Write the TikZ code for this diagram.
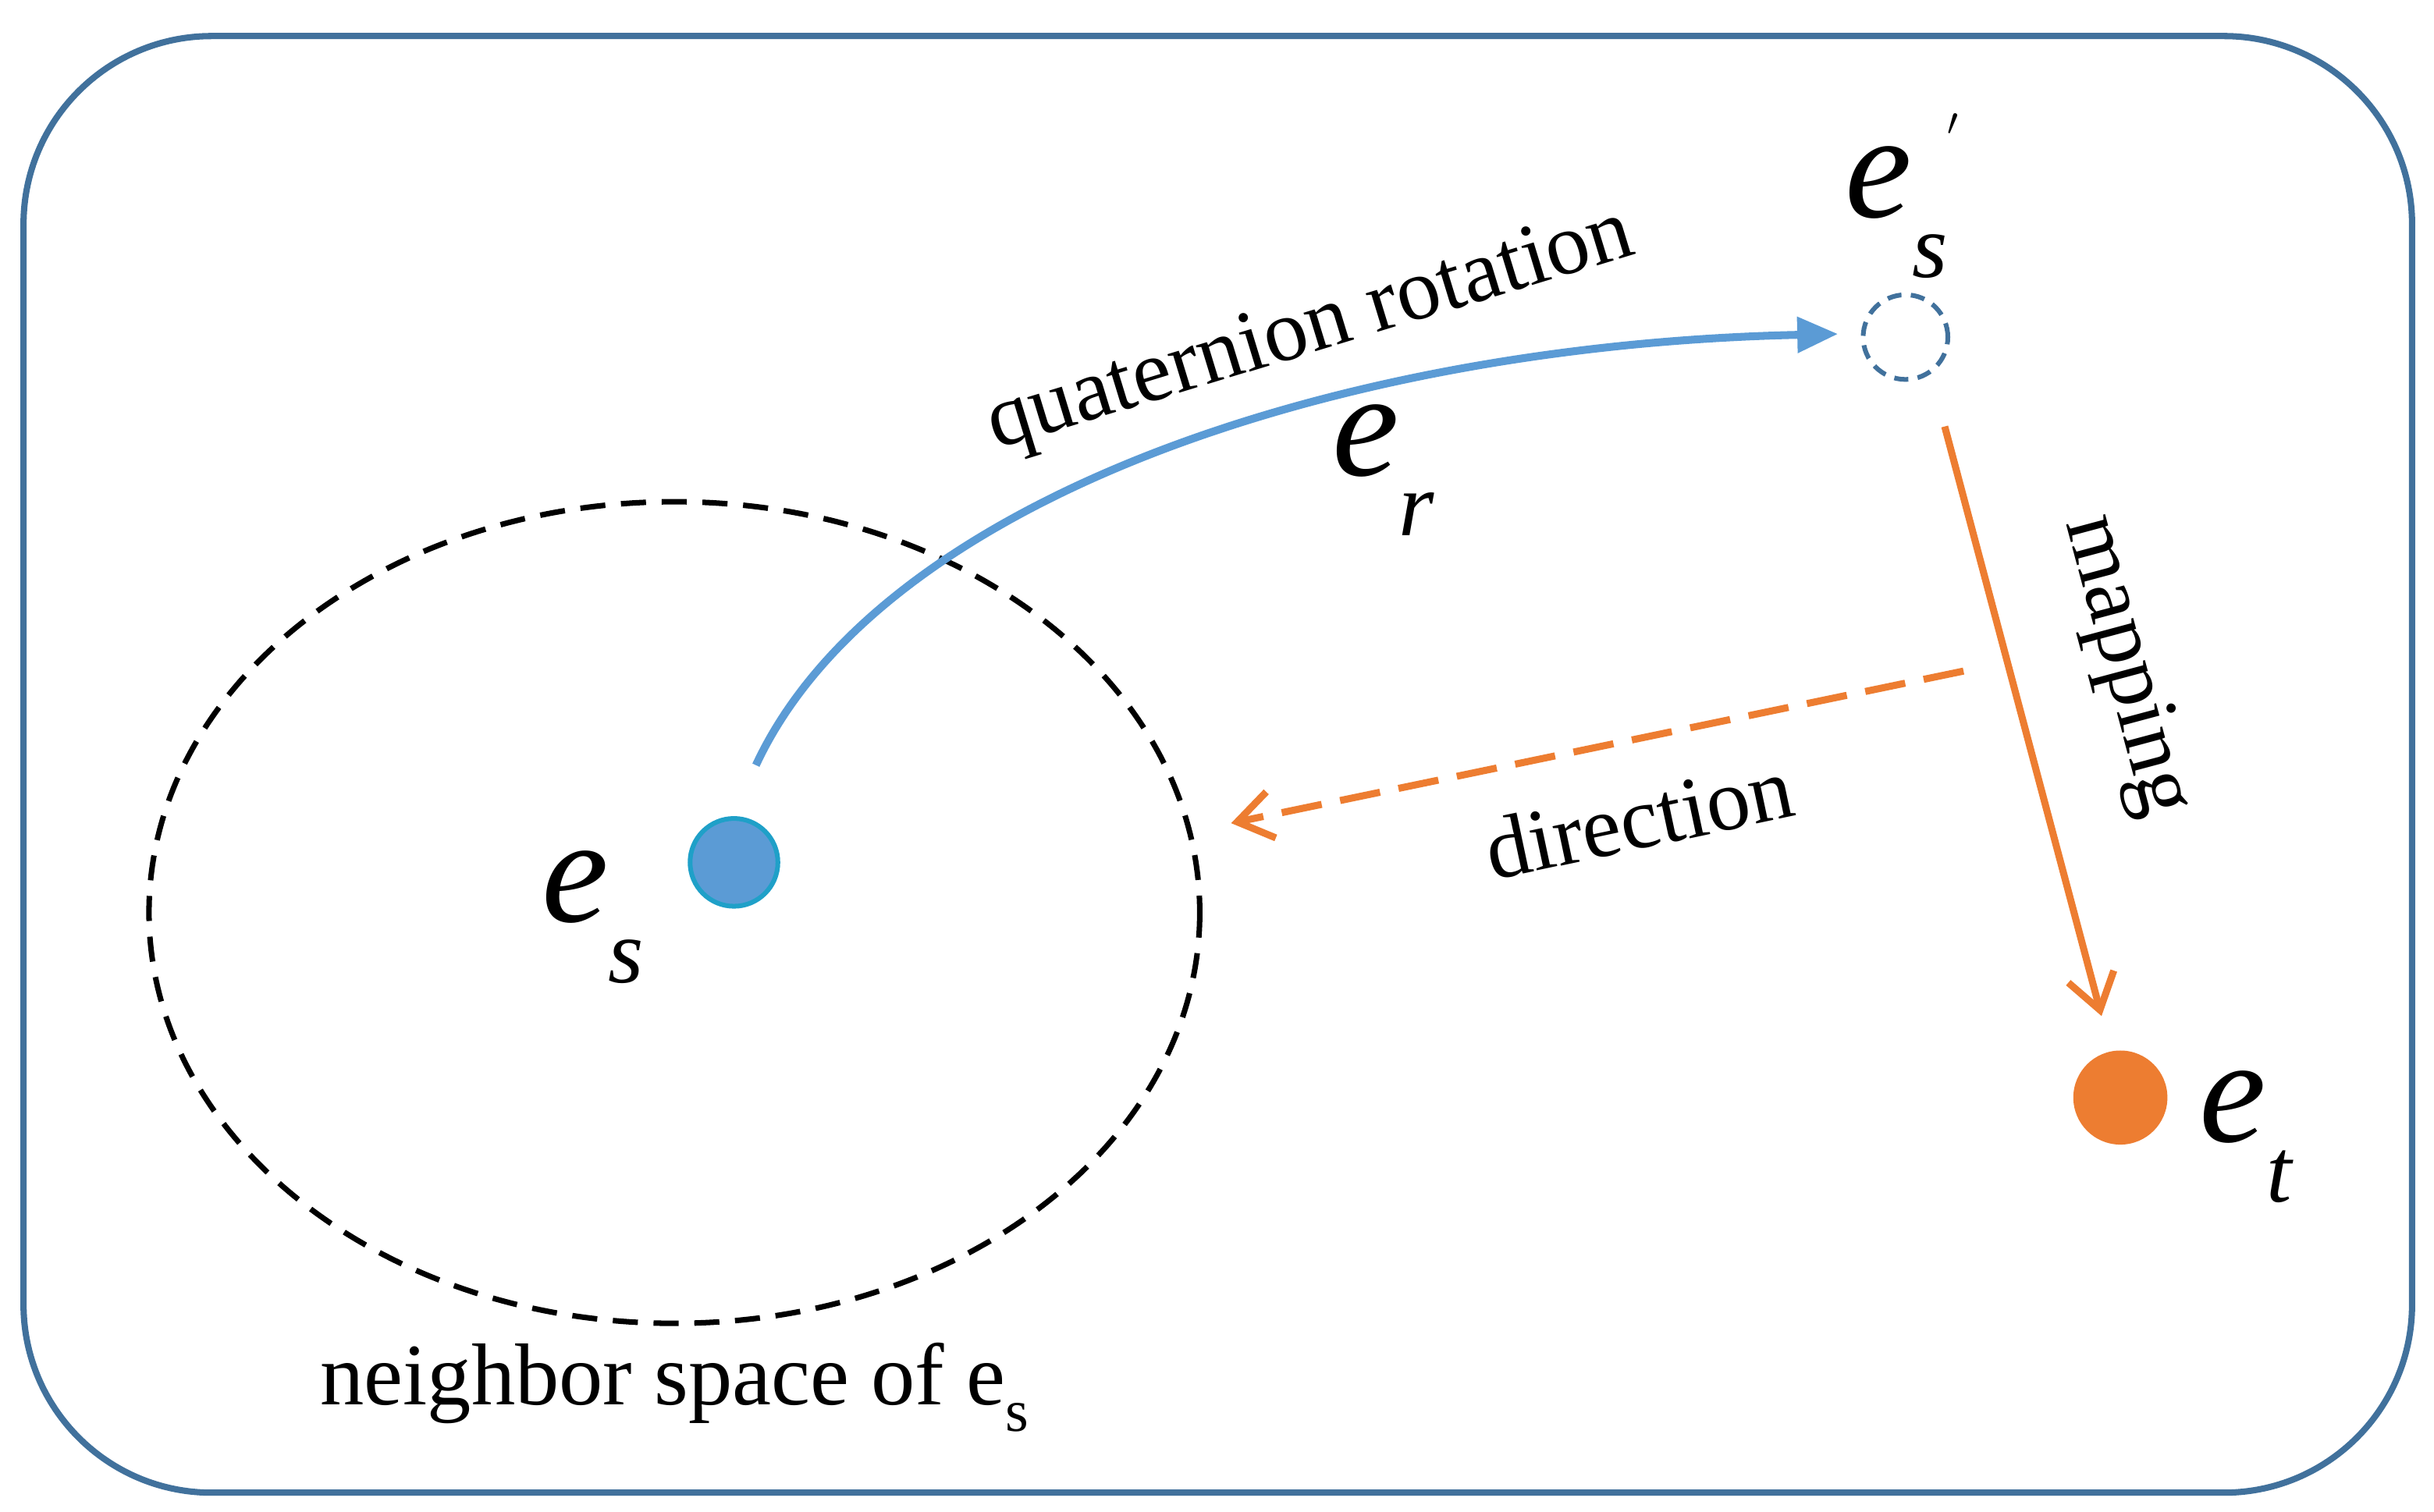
\documentclass[tikz,border=0pt]{standalone}
\usepackage{fontspec}
\setmainfont{Liberation Serif}
\usetikzlibrary{arrows.meta}
\definecolor{frame}{HTML}{41719C}
\definecolor{bl}{HTML}{5B9BD5}
\definecolor{teal}{HTML}{1FA0C8}
\definecolor{org}{HTML}{ED7D31}
\newcommand{\subsz}{\fontsize{58}{64}\selectfont}
\tikzset{
  lbl/.style={font=\fontsize{56}{62}\selectfont,inner sep=0pt},
  sym/.style={font=\fontsize{96}{100}\selectfont\itshape,inner sep=0pt},
}
\begin{document}
\begin{tikzpicture}[x=1pt,y=-1pt]
\useasboundingbox (0,0) rectangle (1552,964);
\draw[frame,line width=4pt,rounded corners=120pt] (15,23) rectangle (1538,952);
\draw[black,line width=3.5pt,dash pattern=on 16pt off 10pt] (430,582) ellipse [x radius=335, y radius=262];
\node[circle,draw=teal,fill=bl,line width=3pt,minimum size=56pt,inner sep=0] (es) at (468,550) {};
\node[sym] (esl) at (378,585) {e\raisebox{-0.4em}{\subsz s}};
\node[circle,draw=frame,dash pattern=on 9pt off 6pt,line width=3pt,minimum size=54pt,inner sep=0] (esp) at (1215,215) {};
\node[sym] (espl) at (1213,125) {e\raisebox{-0.4em}{\subsz s}\raisebox{0.45em}{\subsz$'$}};
\coordinate (c0) at (482,488);
\coordinate (c1) at (1172,213);
\draw[bl,line width=5pt,-{Triangle[length=26pt,width=22pt]}] (c0) .. controls (560,320) and (850,220) .. (c1);
\node[lbl,rotate=17] (qr) at (836,212) {quaternion rotation};
\node[sym] (er) at (882,300) {e\raisebox{-0.4em}{\subsz r}};
\node[circle,fill=org,minimum size=60pt,inner sep=0] (et) at (1352,700) {};
\node[sym] (etl) at (1432,725) {e\raisebox{-0.4em}{\subsz t}};
\coordinate (m0) at (1240,272);
\coordinate (m1) at (1340,648);
\draw[org,line width=4.5pt,-{Straight Barb[length=22pt,width=30pt,line width=4.5pt]}] (m0) -- (m1);
\node[lbl,rotate=-75] (map) at (1355,425) {mapping};
\coordinate (d0) at (1252,428);
\coordinate (d1) at (785,525);
\draw[org,line width=4.5pt,dash pattern=on 26pt off 12pt,-{Straight Barb[length=22pt,width=30pt,line width=4.5pt]}] (d0) -- (d1);
\node[lbl,rotate=12] (dir) at (1045,522) {direction};
\node[lbl] (nb) at (430,885) {neighbor space of e\raisebox{-0.3em}{\fontsize{38}{42}\selectfont s}};
\end{tikzpicture}
\end{document}
